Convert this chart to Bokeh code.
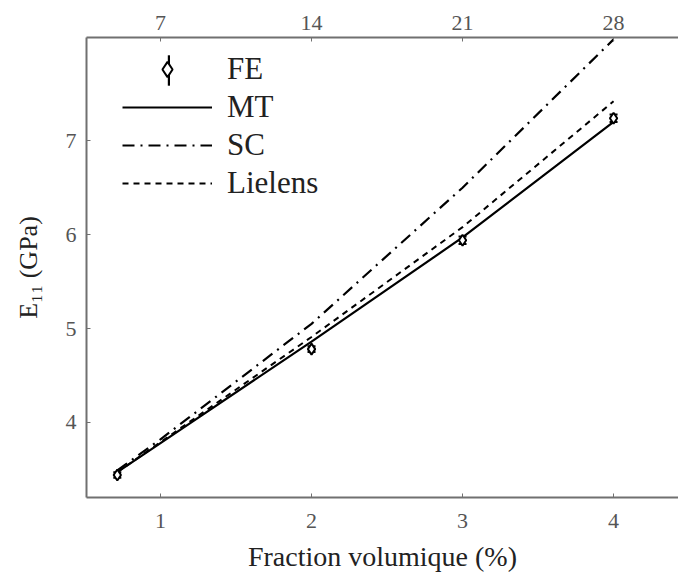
import math
from bokeh.plotting import figure
from bokeh.models import (Range1d, LinearAxis, FixedTicker, Legend, LegendItem,
                          ColumnDataSource, Whisker, TeeHead)
from bokeh.embed import file_html
from bokeh.resources import INLINE

# Data
x_vals = [0.714, 1.0, 2.0, 3.0, 4.0]
mt = [3.47, 3.78, 4.86, 5.97, 7.20]
sc = [3.49, 3.82, 5.05, 6.50, 8.08]
lielens = [3.47, 3.79, 4.91, 6.08, 7.42]

fe_x = [0.714, 2.0, 3.0, 4.0]
fe_y = [3.44, 4.78, 5.94, 7.24]
fe_err = [0.03, 0.03, 0.04, 0.04]

x_ticks = [1, 2, 3, 4]
top_ticks = [7, 14, 21, 28]
y_ticks = [4, 5, 6, 7]

FONT = "Liberation Serif"
AX = "#707070"
TXT = "#222222"

p = figure(width=678, height=581, output_backend="svg", toolbar_location=None,
           x_range=Range1d(0.51, 4.43), y_range=Range1d(3.2, 8.1),
           min_border_left=86, min_border_right=0, min_border_top=37,
           min_border_bottom=84)
p.outline_line_color = None
p.grid.visible = False
p.background_fill_color = "white"
p.border_fill_color = "white"

bottom_axis = p.below[0]
left_axis = p.left[0]

p.extra_x_ranges = {"top": Range1d(0.51 * 7, 4.43 * 7)}
top_axis = LinearAxis(x_range_name="top", ticker=FixedTicker(ticks=top_ticks))
p.add_layout(top_axis, "above")

for ax in [bottom_axis, left_axis, top_axis]:
    ax.axis_line_color = AX
    ax.axis_line_width = 2
    ax.major_tick_line_color = AX
    ax.major_tick_in = 4
    ax.major_tick_out = 0
    ax.minor_tick_line_color = None
    ax.major_label_text_font = FONT
    ax.major_label_text_font_size = "22px"
    ax.major_label_text_color = "#555555"

bottom_axis.ticker = FixedTicker(ticks=x_ticks)
left_axis.ticker = FixedTicker(ticks=y_ticks)
bottom_axis.major_label_standoff = 16
left_axis.major_label_standoff = 10
top_axis.major_label_standoff = 8

bottom_axis.axis_label = "Fraction volumique (%)"
left_axis.axis_label = "E\u2081\u2081 (GPa)"
for ax in [bottom_axis, left_axis]:
    ax.axis_label_text_font = FONT
    ax.axis_label_text_font_style = "normal"
    ax.axis_label_text_color = TXT
bottom_axis.axis_label_text_font_size = "28px"
left_axis.axis_label_text_font_size = "26px"
bottom_axis.axis_label_standoff = 10
left_axis.axis_label_standoff = 20

r_mt = p.line(x_vals, mt, line_color="black", line_width=2.2)
r_sc = p.line(x_vals, sc, line_color="black", line_width=2.2, line_dash="12 6 2 6")
r_li = p.line(x_vals, lielens, line_color="black", line_width=2, line_dash="6 5")

src = ColumnDataSource(dict(x=fe_x, y=fe_y,
                            lo=[a - b for a, b in zip(fe_y, fe_err)],
                            hi=[a + b for a, b in zip(fe_y, fe_err)]))
p.add_layout(Whisker(source=src, base="x", lower="lo", upper="hi",
                     line_color="black", line_width=2,
                     upper_head=TeeHead(size=8, line_color="black", line_width=2),
                     lower_head=TeeHead(size=8, line_color="black", line_width=2)))
r_fe = p.scatter("x", "y", source=src, marker="diamond", size=11,
                 fill_color="white", line_color="black", line_width=2)

# legend-only glyph for the FE error bar (no data position on the plot)
bar_src = ColumnDataSource(dict(x=[math.nan], top=[math.nan]))
r_fe_bar = p.vbar(x="x", top="top", bottom=0, width=0.01, source=bar_src,
                  fill_color="black", line_color=None)

legend_bar = Legend(items=[LegendItem(label=" ", renderers=[r_fe_bar])],
                    location=(81, 408))
legend_bar.glyph_width = 3
legend_bar.glyph_height = 38
legend_bar.padding = 0
legend_bar.margin = 0
legend_bar.spacing = 0
legend_bar.label_standoff = 0
legend_bar.label_text_font_size = "10px"
legend_bar.label_height = 10
legend_bar.border_line_color = None
legend_bar.background_fill_alpha = 0
p.add_layout(legend_bar)

legend = Legend(items=[
    LegendItem(label="FE", renderers=[r_fe]),
    LegendItem(label="MT", renderers=[r_mt]),
    LegendItem(label="SC", renderers=[r_sc]),
    LegendItem(label="Lielens", renderers=[r_li]),
], location=(36, 295))
legend.glyph_width = 90
legend.glyph_height = 38
legend.spacing = 0
legend.padding = 5
legend.margin = 0
legend.label_standoff = 15
legend.label_text_font = FONT
legend.label_text_font_size = "31px"
legend.label_text_color = "#222222"
legend.border_line_color = None
legend.background_fill_alpha = 0
p.add_layout(legend)

open("out.html", "w").write(file_html(p, INLINE))
